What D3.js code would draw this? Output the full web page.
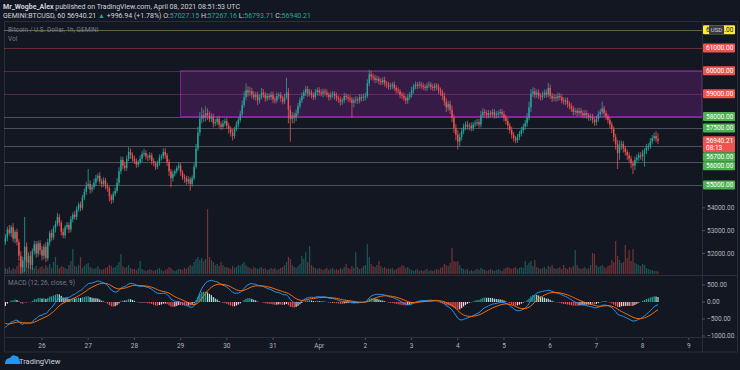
<!DOCTYPE html>
<html>
<head>
<meta charset="utf-8">
<script src="https://cdn.jsdelivr.net/npm/d3@7"></script>
<style>
  html, body { margin: 0; padding: 0; background: #131722; }
  svg { display: block; font-family: Roboto, "Noto Sans", sans-serif; }
</style>
</head>
<body>
<svg id="chart" width="740" height="370"></svg>
<script>
// hourly BTCUSD (Gemini), first candle Mar 25 05:00 UTC
const firstCandle = Date.UTC(2021, 2, 25, 5);

// closes before the visible range, only used to warm up the MACD
const warmupCloses = [
  54100, 54300, 54200, 54500, 54400, 54300, 54500,
  54700, 55000, 55300, 55600, 55800, 56100, 56400, 56700, 56900, 57100, 57300, 57200,
  57000, 56600, 56000, 55300, 54600, 54000, 53500, 53100, 52800, 52600, 52400, 52300,
  52500, 52300, 52600, 52800, 52500
];

const closes = [
  52700, 53050, 52900, 53150, 52650, 52950, 52500, 51900, 51400, 51700, 52300, 51600, 51900, 51500, 52100, 52400, 52000, 52450, 52150,
  51900, 52300, 51800, 52500, 52900, 52700, 53100, 53300, 53600, 53350, 52950, 52800, 53150, 53250, 53050, 53500, 53700, 53600, 53950, 54150, 54000, 54450, 54700, 54950,
  55050, 54800, 54900, 55100, 55300, 55400, 55150, 55050, 55200, 54950, 54850, 54500, 54350, 54600, 54750, 55100, 55600, 56100, 55850, 55750, 56150, 56450, 56300, 56150,
  56050, 55900, 56000, 56150, 56350, 56400, 56250, 56200, 56300, 56050, 55950, 55800, 55950, 56200, 56250, 56450, 56300, 56000, 55600, 55300, 55500, 55600, 55750, 55850,
  55550, 55350, 55300, 55150, 55250, 55050, 55300, 55800, 56600, 57300, 57900, 58050, 57950, 58150, 58050, 57900, 58000, 57700, 57750, 57900, 57650, 57550, 57700, 57800,
  57600, 57450, 57300, 57150, 57450, 57650, 57850, 58100, 58500, 58850, 59150, 59050, 59100, 58950, 58850, 58950, 58700, 58850, 59050, 58950, 58800, 58900, 58850, 58950,
  58750, 58700, 58900, 58950, 58800, 58650, 58850, 59050, 58300, 57900, 58050, 57950, 58150, 58450, 58700, 58900, 59050, 59200, 59000, 59050, 58950, 58850, 59050, 59150,
  59050, 59000, 59100, 59050, 58950, 58850, 58950, 59000, 58900, 58800, 58750, 58650, 58700, 58900, 58850, 58800, 58750, 58600, 58700, 58750, 58700, 58850, 58800, 58850,
  58900, 59450, 59850, 59750, 59700, 59600, 59650, 59550, 59500, 59600, 59450, 59400, 59300, 59350, 59400, 59250, 59150, 59100, 58950, 58900, 58800, 58700, 58850, 58950,
  59150, 59300, 59400, 59350, 59400, 59350, 59300, 59250, 59350, 59400, 59300, 59250, 59350, 59300, 59150, 59050, 58900, 58650, 58400, 58550, 58300, 57950, 57500, 57200,
  56900, 57100, 57350, 57550, 57650, 57550, 57600, 57500, 57650, 57700, 57750, 57650, 58050, 58200, 58150, 58050, 58150, 58100, 58200, 58050, 58100, 58150, 58200, 58100,
  57950, 57800, 57600, 57400, 57200, 57050, 56950, 57100, 57250, 57400, 57550, 57700, 57950, 58400, 59000, 59100, 58950, 59050, 58900, 58850, 58950, 59050, 58950, 59250,
  58900, 58800, 58850, 58800, 58900, 58850, 58700, 58650, 58700, 58550, 58450, 58350, 58200, 58250, 58150, 58250, 58150, 58050, 58150, 58050, 57950, 58000, 57850, 57750,
  57900, 58100, 58200, 58350, 58150, 58000, 57850, 57650, 57450, 57100, 56800, 56400, 56750, 56800, 56600, 56450, 56300, 56150, 55950, 55850, 56100, 56200, 56300, 56250,
  56400, 56500, 56650, 56700, 56900, 57050, 57150, 57027.15, 56940.21
];

// high above max(open, close), low below min(open, close), in USD
const upperWick = [
  150, 120, 200, 100, 180, 90, 140, 120, 200, 160, 1300, 180, 150, 200, 120, 160, 140, 110, 130,
  180, 120, 200, 150, 100, 160, 120, 140, 180, 120, 100, 150, 90, 130, 110, 140, 100, 160, 120, 90, 130, 110, 150, 200,
  650, 150, 120, 180, 140, 100, 160, 120, 140, 110, 130, 90, 100, 120, 150, 200, 180, 150, 130, 160, 140, 200, 150, 120,
  140, 120, 100, 150, 130, 180, 120, 100, 140, 110, 130, 90, 120, 140, 100, 150, 160, 100, 120, 110, 130, 90, 100, 140,
  120, 100, 130, 110, 140, 100, 120, 150, 200, 250, 300, 350, 250, 300, 200, 180, 150, 120, 140, 100, 130, 120, 150, 110,
  130, 120, 110, 150, 100, 140, 120, 160, 200, 250, 300, 180, 200, 150, 170, 120, 140, 130, 200, 150, 120, 130, 110, 140,
  140, 120, 150, 100, 130, 110, 140, 650, 200, 180, 150, 120, 160, 140, 130, 150, 120, 140, 130, 150, 120, 110, 150, 120,
  130, 150, 110, 120, 140, 100, 130, 120, 110, 150, 120, 130, 100, 140, 110, 120, 130, 100, 120, 140, 110, 130, 120, 150,
  140, 180, 200, 150, 130, 120, 140, 110, 130, 120, 140, 100, 130, 120, 110, 140, 120, 130, 100, 120, 140, 110, 130, 120,
  150, 120, 130, 110, 140, 120, 130, 100, 120, 140, 110, 130, 120, 110, 130, 120, 140, 150, 160, 130, 150, 170, 140, 160,
  200, 180, 150, 140, 130, 160, 120, 140, 110, 130, 150, 140, 200, 150, 130, 120, 140, 110, 130, 120, 140, 110, 130, 120,
  140, 120, 130, 110, 150, 120, 100, 130, 120, 140, 130, 150, 200, 250, 200, 180, 150, 130, 140, 120, 150, 130, 140, 230,
  150, 130, 140, 120, 150, 130, 110, 140, 120, 130, 110, 140, 120, 130, 110, 140, 120, 130, 140, 120, 110, 130, 120, 110,
  130, 150, 140, 300, 120, 110, 100, 130, 120, 110, 140, 180, 200, 150, 130, 120, 110, 140, 130, 120, 150, 140, 130, 150,
  140, 120, 150, 130, 160, 140, 150, 200, 237
];
const lowerWick = [
  120, 160, 100, 180, 140, 200, 150, 220, 300, 250, 500, 200, 260, 180, 220, 150, 180, 140, 200,
  200, 150, 180, 120, 160, 140, 100, 180, 120, 150, 160, 130, 140, 100, 150, 120, 140, 110, 130, 120, 150, 100, 120, 140,
  120, 180, 130, 100, 150, 140, 120, 160, 130, 140, 150, 220, 180, 120, 100, 90, 110, 130, 160, 140, 120, 100, 150, 130,
  130, 150, 120, 100, 140, 110, 130, 150, 120, 160, 130, 140, 100, 110, 130, 120, 140, 160, 200, 400, 150, 120, 100, 110,
  150, 130, 200, 140, 120, 300, 120, 100, 90, 110, 150, 200, 180, 160, 200, 150, 140, 180, 120, 130, 160, 140, 110, 120,
  140, 200, 180, 200, 120, 100, 130, 110, 90, 120, 150, 180, 140, 160, 120, 150, 200, 130, 110, 140, 150, 120, 130, 120,
  150, 140, 100, 130, 160, 120, 110, 100, 600, 1000, 200, 250, 150, 120, 100, 110, 130, 150, 140, 120, 160, 130, 110, 140,
  140, 120, 160, 130, 110, 150, 120, 140, 160, 130, 150, 170, 140, 120, 130, 160, 140, 650, 200, 130, 150, 120, 140, 130,
  150, 100, 120, 160, 130, 140, 120, 150, 130, 110, 140, 160, 120, 130, 150, 120, 140, 110, 150, 130, 120, 160, 140, 120,
  130, 140, 110, 150, 120, 130, 140, 120, 130, 110, 140, 120, 130, 150, 160, 140, 170, 180, 200, 150, 180, 200, 220, 250,
  340, 200, 150, 130, 140, 120, 160, 150, 130, 120, 110, 140, 130, 120, 150, 140, 130, 120, 110, 140, 130, 150, 120, 140,
  160, 150, 180, 140, 170, 150, 120, 110, 130, 120, 140, 130, 150, 120, 200, 150, 160, 140, 130, 150, 120, 140, 130, 110,
  140, 160, 130, 150, 120, 140, 130, 120, 150, 160, 140, 150, 160, 130, 140, 120, 150, 130, 120, 160, 140, 130, 150, 160,
  150, 130, 120, 110, 140, 160, 150, 170, 180, 200, 250, 700, 300, 200, 180, 160, 200, 180, 220, 370, 200, 150, 160, 140,
  200, 600, 150, 140, 120, 130, 110, 160, 146
];

const volumes = [
  60, 50, 70, 40, 60, 50, 80, 120, 150, 90, 200, 110, 80, 100, 70, 60, 80, 50, 70,
  80, 60, 90, 70, 100, 60, 120, 170, 90, 60, 80, 70, 60, 50, 90, 130, 250, 80, 70, 90, 170, 60, 80, 100,
  110, 70, 60, 50, 60, 80, 50, 40, 50, 60, 70, 90, 80, 60, 70, 90, 120, 200, 80, 60, 70, 90, 60, 50,
  50, 40, 60, 130, 50, 40, 30, 40, 50, 40, 30, 40, 50, 60, 40, 30, 40, 50, 70, 60, 40, 30, 40, 50,
  50, 40, 60, 50, 70, 90, 80, 120, 150, 170, 140, 160, 130, 150, 650, 170, 140, 120, 90, 100, 80, 120, 90, 70,
  70, 60, 50, 80, 60, 70, 90, 80, 100, 120, 90, 70, 60, 50, 70, 60, 50, 60, 70, 50, 60, 40, 50, 60,
  50, 60, 40, 50, 60, 70, 90, 120, 170, 150, 90, 70, 60, 80, 100, 180, 150, 220, 120, 280, 90, 70, 60, 50,
  60, 50, 40, 50, 60, 40, 50, 60, 40, 50, 40, 60, 50, 70, 100, 60, 50, 80, 60, 220, 70, 50, 60, 80,
  90, 300, 170, 100, 80, 70, 90, 130, 80, 60, 70, 50, 60, 50, 60, 40, 50, 60, 70, 90, 80, 60, 70, 50,
  40, 30, 40, 50, 30, 40, 30, 40, 50, 30, 40, 30, 40, 50, 40, 60, 70, 100, 90, 80, 110, 260, 130, 120,
  130, 90, 60, 50, 40, 50, 30, 40, 30, 40, 50, 40, 60, 50, 40, 30, 40, 50, 40, 30, 40, 50, 40, 30,
  50, 60, 70, 60, 50, 60, 70, 50, 60, 70, 60, 130, 90, 110, 130, 80, 140, 70, 60, 50, 60, 70, 50, 80,
  70, 90, 60, 50, 60, 70, 50, 90, 60, 50, 70, 60, 80, 240, 90, 60, 50, 60, 70, 50, 60, 90, 210, 200,
  90, 70, 80, 90, 70, 60, 80, 90, 140, 120, 330, 180, 140, 110, 120, 290, 160, 240, 130, 250, 110, 100, 90, 80,
  100, 90, 60, 50, 40, 40, 30, 30, 25
];

// drawn levels
const resistanceLevels = [61000, 60000, 59000];
const supportLevels = [58000, 57500, 56700, 56000, 55000];
const alertLevel = 61800;
const zoneLow = 58000, zoneHigh = 60000;
const zoneStart = Date.UTC(2021, 2, 29);
const axisPrices = [54000, 53000, 52000];
const macdTicks = [500, 0, -500, -1000];
const dayTicks = d3.range(0, 15).map(d => Date.UTC(2021, 2, 26 + d));
const lastPrice = 56940.21;
const countdown = '08:13';

const svg = d3.select('#chart');
const bg = '#131722', border = '#2a2e39', textGray = '#787b86';
const upCol = '#26a69a', downCol = '#ef5350';

const padL = 4, padR = 702, padT = 22, volBase = 274, paneSplit = 275, macdBottom = 337, padB = 352;

const x = d3.scaleUtc()
  .domain([Date.UTC(2021, 2, 26), Date.UTC(2021, 3, 8)])
  .range([42, 642.6]);
const y = d3.scaleLinear().domain([61000, 55000]).range([48, 185]);
const yVol = d3.scaleLinear().domain([0, d3.max(volumes)]).range([volBase, volBase - 65]);
const yMacd = d3.scaleLinear().domain([-1000, 500]).range([336, 285]);

const candles = closes.map((c, i) => {
  const o = i ? closes[i - 1] : warmupCloses[warmupCloses.length - 1];
  return {
    t: firstCandle + i * 3600e3,
    o, c,
    h: Math.max(o, c) + upperWick[i],
    l: Math.min(o, c) - lowerWick[i],
    v: volumes[i]
  };
});

// macd 12/26/9 on close
function ema(vals, n) {
  const k = 2 / (n + 1);
  let e = vals[0];
  return vals.map((v, i) => (e = i ? v * k + e * (1 - k) : v));
}
const allCloses = warmupCloses.concat(closes);
const e12 = ema(allCloses, 12), e26 = ema(allCloses, 26);
const macdAll = e12.map((v, i) => v - e26[i]);
const signalAll = ema(macdAll, 9);
const skip = warmupCloses.length;
candles.forEach((d, i) => {
  d.macd = macdAll[i + skip];
  d.signal = signalAll[i + skip];
  d.hist = d.macd - d.signal;
  d.prevHist = macdAll[i + skip - 1] - signalAll[i + skip - 1];
});

svg.append('rect').attr('width', 740).attr('height', 370).attr('fill', bg);

const defs = svg.append('defs');
defs.append('clipPath').attr('id', 'mainClip')
  .append('rect').attr('x', padL).attr('y', padT).attr('width', padR - padL).attr('height', paneSplit - padT);
defs.append('clipPath').attr('id', 'macdClip')
  .append('rect').attr('x', padL).attr('y', paneSplit).attr('width', padR - padL).attr('height', macdBottom - paneSplit);

// header
const head = svg.append('g').attr('font-size', 7).attr('fill', '#d1d4dc');
const h1 = head.append('text').attr('x', 3).attr('y', 8.5);
h1.append('tspan').attr('font-weight', 'bold').text('Mr_Wogbe_Alex');
h1.append('tspan').text(' published on TradingView.com, April 08, 2021 08:51:53 UTC');
const h2 = head.append('text').attr('x', 3).attr('y', 17.5);
h2.append('tspan').text('GEMINI:BTCUSD, 60  56940.21 ');
h2.append('tspan').attr('fill', upCol).text('▲');
h2.append('tspan').text(' +996.94 (+1.78%) O:');
h2.append('tspan').attr('fill', upCol).text('57027.15');
h2.append('tspan').text(' H:');
h2.append('tspan').attr('fill', upCol).text('57267.16');
h2.append('tspan').text(' L:');
h2.append('tspan').attr('fill', upCol).text('56793.71');
h2.append('tspan').text(' C:');
h2.append('tspan').attr('fill', upCol).text('56940.21');

// frame
const frame = svg.append('g').attr('stroke', border).attr('fill', 'none');
frame.append('rect').attr('x', padL + 0.5).attr('y', padT - 0.5).attr('width', 733).attr('height', padB - padT + 0.5);
frame.append('line').attr('x1', padR + 0.5).attr('x2', padR + 0.5).attr('y1', padT).attr('y2', padB);
frame.append('line').attr('x1', padL).attr('x2', 737).attr('y1', paneSplit + 0.5).attr('y2', paneSplit + 0.5);
frame.append('line').attr('x1', padL).attr('x2', 737).attr('y1', macdBottom + 0.5).attr('y2', macdBottom + 0.5);

const main = svg.append('g').attr('clip-path', 'url(#mainClip)');

// zone
main.append('rect')
  .attr('x', x(zoneStart)).attr('y', y(zoneHigh))
  .attr('width', padR - x(zoneStart)).attr('height', y(zoneLow) - y(zoneHigh))
  .attr('fill', 'rgba(156,39,176,0.26)')
  .attr('stroke', '#9c27b0').attr('stroke-opacity', 0.8);

// levels
const hline = (p, col, op) => main.append('line')
  .attr('x1', padL).attr('x2', padR)
  .attr('y1', Math.round(y(p)) + 0.5).attr('y2', Math.round(y(p)) + 0.5)
  .attr('stroke', col).attr('stroke-opacity', op);
hline(alertLevel, '#c9c46a', 0.45);
resistanceLevels.forEach(p => hline(p, p === 61000 ? '#ef5350' : '#b04a9a', 0.38));
supportLevels.forEach(p => hline(p, '#5d606b', 0.8));

// volume
main.append('g').selectAll('rect').data(candles).join('rect')
  .attr('x', d => x(d.t) - 0.6).attr('width', 1.2)
  .attr('y', d => yVol(d.v)).attr('height', d => volBase - yVol(d.v))
  .attr('fill', d => d.c >= d.o ? upCol : downCol).attr('fill-opacity', 0.45);

// candles
const cg = main.append('g').selectAll('g').data(candles).join('g')
  .attr('stroke', d => d.c >= d.o ? upCol : downCol)
  .attr('fill', d => d.c >= d.o ? upCol : downCol);
cg.append('line')
  .attr('x1', d => x(d.t)).attr('x2', d => x(d.t))
  .attr('y1', d => y(d.h)).attr('y2', d => y(d.l))
  .attr('stroke-width', 0.8);
cg.append('rect')
  .attr('stroke', 'none')
  .attr('x', d => x(d.t) - 0.7).attr('width', 1.4)
  .attr('y', d => y(Math.max(d.o, d.c)))
  .attr('height', d => Math.max(0.8, Math.abs(y(d.o) - y(d.c))));

// pane titles
svg.append('text').attr('x', 8).attr('y', 32).attr('font-size', 6.5).attr('fill', textGray)
  .text('Bitcoin / U.S. Dollar, 1h, GEMINI');
svg.append('text').attr('x', 8).attr('y', 40.5).attr('font-size', 6.5).attr('fill', textGray).text('Vol');
svg.append('text').attr('x', 8).attr('y', 285).attr('font-size', 6.5).attr('fill', textGray)
  .text('MACD (12, 26, close, 9)');

// macd pane
const mp = svg.append('g').attr('clip-path', 'url(#macdClip)');
mp.append('g').selectAll('rect').data(candles).join('rect')
  .attr('x', d => x(d.t) - 0.6).attr('width', 1.2)
  .attr('y', d => Math.min(yMacd(0), yMacd(d.hist)))
  .attr('height', d => Math.abs(yMacd(d.hist) - yMacd(0)))
  .attr('fill', d => d.hist >= 0
    ? (d.hist >= d.prevHist ? '#26a69a' : '#b2dfdb')
    : (d.hist <= d.prevHist ? '#ef5350' : '#ffcdd2'));
mp.append('path').datum(candles)
  .attr('fill', 'none').attr('stroke', '#2196f3').attr('stroke-width', 1)
  .attr('d', d3.line().x(d => x(d.t)).y(d => yMacd(d.macd)));
mp.append('path').datum(candles)
  .attr('fill', 'none').attr('stroke', '#ff6d00').attr('stroke-width', 1)
  .attr('d', d3.line().x(d => x(d.t)).y(d => yMacd(d.signal)));

// time axis
const ta = svg.append('g').attr('font-size', 6.5).attr('fill', '#b2b5be').attr('text-anchor', 'middle');
dayTicks.forEach(t => {
  const dt = new Date(t);
  const lab = dt.getUTCDate() === 1 ? d3.utcFormat('%b')(dt) : dt.getUTCDate();
  ta.append('line').attr('x1', x(t)).attr('x2', x(t)).attr('y1', macdBottom + 1).attr('y2', macdBottom + 3)
    .attr('stroke', '#4c525e');
  ta.append('text').attr('x', x(t)).attr('y', 347.5).text(lab);
});

// price axis
const pa = svg.append('g').attr('font-size', 6.5);
const fmt = d3.format('.2f');
axisPrices.forEach(p => {
  pa.append('line').attr('x1', padR).attr('x2', padR + 3).attr('y1', y(p)).attr('y2', y(p)).attr('stroke', '#4c525e');
  pa.append('text').attr('x', 707).attr('y', y(p) + 2.3).attr('fill', '#b2b5be').text(fmt(p));
});
macdTicks.forEach(v => {
  pa.append('line').attr('x1', padR).attr('x2', padR + 3).attr('y1', yMacd(v)).attr('y2', yMacd(v)).attr('stroke', '#4c525e');
  pa.append('text').attr('x', 707).attr('y', yMacd(v) + 2.3).attr('fill', '#b2b5be').text(v < 0 ? '\u2212' + fmt(-v) : fmt(v));
});

// coloured tags, pushed down when they overlap
const tags = [
  { p: alertLevel, fill: '#ffeb3b', col: '#131722' },
  ...resistanceLevels.map(p => ({ p, fill: '#ef5350', col: '#fff' })),
  ...supportLevels.map(p => ({ p, fill: '#4caf50', col: '#fff' })),
  { p: lastPrice, fill: '#ef5350', col: '#fff', extra: countdown }
].map(d => ({ ...d, y: y(d.p) })).sort((a, b) => a.y - b.y);
let prevBottom = -Infinity;
tags.forEach(d => {
  const above = 4.5, below = d.extra ? 11.5 : 4.5;
  if (d.y - above < prevBottom) d.y = prevBottom + above;
  prevBottom = d.y + below;
  pa.append('rect').attr('x', padR + 1).attr('y', d.y - above).attr('width', 32).attr('height', above + below)
    .attr('rx', 1).attr('fill', d.fill);
  pa.append('text').attr('x', 706).attr('y', d.y + 2.2).attr('fill', d.col).text(fmt(d.p));
  if (d.extra) pa.append('text').attr('x', 706).attr('y', d.y + 9.4).attr('fill', d.col).text(d.extra);
});
// currency badge over the top tag
const topTag = tags[0];
pa.append('rect').attr('x', 709).attr('y', topTag.y - 4.5).attr('width', 15).attr('height', 9).attr('rx', 1).attr('fill', '#363a45');
pa.append('text').attr('x', 716.5).attr('y', topTag.y + 2.2).attr('text-anchor', 'middle').attr('fill', '#d1d4dc')
  .attr('font-size', 6).text('USD');

// logo
const logo = svg.append('g');
logo.append('path')
  .attr('d', 'M5,364 Q5,358 10,358 Q12,354 16,356 Q19,356 19,360 Q21,361 20,364 Z')
  .attr('fill', '#2196f3');
logo.append('text').attr('x', 19).attr('y', 363.5).attr('font-size', 7.5).attr('fill', '#d1d4dc').text('TradingView');
</script>
</body>
</html>
